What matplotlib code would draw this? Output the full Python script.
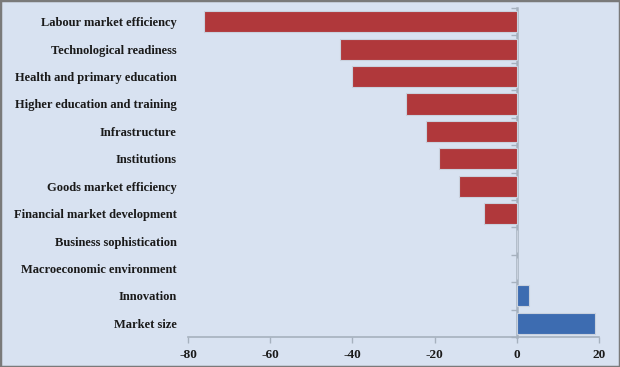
import matplotlib
matplotlib.use("Agg")
import matplotlib.pyplot as plt
import matplotlib.transforms as mtransforms
import numpy as np

categories = [
    "Labour market efficiency",
    "Technological readiness",
    "Health and primary education",
    "Higher education and training",
    "Infrastructure",
    "Institutions",
    "Goods market efficiency",
    "Financial market development",
    "Business sophistication",
    "Macroeconomic environment",
    "Innovation",
    "Market size",
]
values = [-76, -43, -40, -27, -22, -19, -14, -8, 0, 0, 3, 19]

bg = "#d8e2f1"
red = "#b0383b"
blue = "#3d6cb1"
axis_grey = "#a6b1be"

plt.rcParams['font.family'] = ['Liberation Serif', 'DejaVu Serif']

fig = plt.figure(figsize=(6.2, 3.67), dpi=100, facecolor=bg)
ax = fig.add_axes([188 / 620, 30 / 367, 411 / 620, 329 / 367])
ax.set_facecolor(bg)

y = np.arange(len(categories))
colors = [red if v < 0 else blue for v in values]
ax.barh(y, values, height=0.77, color=colors, edgecolor="#c9d1de", linewidth=0.8, zorder=3)

ax.set_xlim(-80, 20)
ax.set_ylim(len(categories) - 0.5, -0.5)
ax.set_xticks([-80, -60, -40, -20, 0, 20])
ax.set_xticklabels(["-80", "-60", "-40", "-20", "0", "20"])

for s in ["top", "right"]:
    ax.spines[s].set_visible(False)
ax.spines["bottom"].set_color(axis_grey)
ax.spines["bottom"].set_linewidth(1.2)

# category axis crosses at zero, ticks between categories
ax.spines["left"].set_position(("data", 0))
ax.spines["left"].set_color(axis_grey)
ax.spines["left"].set_linewidth(1.8)
ax.set_yticks(np.arange(len(categories) + 1) - 0.5)
ax.set_yticklabels([])
ax.tick_params(axis="y", length=4, width=1, color=axis_grey)

ax.tick_params(axis="x", length=4, width=1, color=axis_grey, pad=5,
               labelsize=9.5, labelcolor="#1a1a1a")
for lab in ax.get_xticklabels():
    lab.set_fontweight("bold")

# category names at the left of the plot
trans = mtransforms.blended_transform_factory(ax.transAxes, ax.transData)
for yi, name in zip(y, categories):
    ax.text(-0.027, yi, name, transform=trans, ha="right", va="center_baseline",
            fontsize=9, fontweight="bold", color="#1a1a1a")

# figure border
fig.patches.append(plt.Rectangle((0, 0), 1, 1, transform=fig.transFigure,
                                 fill=False, edgecolor="#7a7a7a", linewidth=2.5))

fig.savefig("out.png", dpi=100, facecolor=bg)
